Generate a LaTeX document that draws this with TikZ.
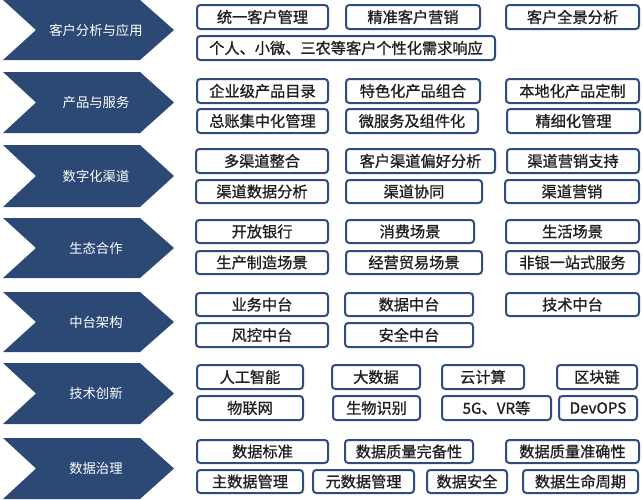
\documentclass[tikz,border=0pt]{standalone}
\usepackage{fontspec}
\setmainfont{Noto Sans CJK SC}
\newfontfamily\boxfont[FakeBold=0.9]{Noto Sans CJK SC}
\newfontfamily\chevfont{Noto Sans CJK SC}
\definecolor{chevblue}{RGB}{44,72,117}
\definecolor{boxblue}{RGB}{47,77,124}
\definecolor{boxtext}{RGB}{30,30,30}
\tikzset{
  bx/.style={draw=boxblue, line width=1.5pt, rounded corners=2.5pt, fill=white,
    inner sep=0pt, text=boxtext, font=\boxfont\fontsize{11.4}{13}\selectfont},
  chev/.style={fill=chevblue, draw=none},
  chevtext/.style={text=white, inner sep=0pt, font=\chevfont\fontsize{10}{12}\selectfont}
}
\newcommand\bx[6]{\node[bx,minimum width={(#4-#2)*0.75pt},minimum height={(#5-#3)*0.75pt}] (#1) at ({(#2+#4)/2},{(#3+#5)/2}) {#6};}
\newcommand\chevron[4]{%
  \fill[chev] (3,#2) -- (140,#2) -- (174,{(#2+#3)/2}) -- (140,#3) -- (3,#3) -- (36,{(#2+#3)/2}) -- cycle;
  \node[chevtext] (#1) at (96,{(#2+#3)/2}) {#4};}
\begin{document}
\begin{tikzpicture}[x=0.75pt,y=-0.75pt]
\useasboundingbox (0,0) rectangle (643,500);
% row 1
\chevron{c1}{0}{60}{客户分析与应用}
\bx{b11}{197}{5}{328}{29}{统一客户管理}
\bx{b12}{346}{5}{480}{29}{精准客户营销}
\bx{b13}{506}{5}{639}{29}{客户全景分析}
\bx{b14}{197}{36}{495}{60}{个人、小微、三农等客户个性化需求响应}
% row 2
\chevron{c2}{72}{133}{产品与服务}
\bx{b21}{197}{79}{328}{103}{企业级产品目录}
\bx{b22}{346}{79}{480}{103}{特色化产品组合}
\bx{b23}{506}{79}{639}{103}{本地化产品定制}
\bx{b24}{197}{109}{328}{133}{总账集中化管理}
\bx{b25}{346}{109}{478}{133}{微服务及组件化}
\bx{b26}{507}{109}{640}{133}{精细化管理}
% row 3
\chevron{c3}{145}{207}{数字化渠道}
\bx{b31}{196}{149}{328}{173}{多渠道整合}
\bx{b32}{346}{149}{495}{173}{客户渠道偏好分析}
\bx{b33}{507}{149}{639}{173}{渠道营销支持}
\bx{b34}{196}{180}{328}{203}{渠道数据分析}
\bx{b35}{346}{180}{482}{203}{渠道协同}
\bx{b36}{505}{180}{639}{203}{渠道营销}
% row 4
\chevron{c4}{218}{278}{生态合作}
\bx{b41}{196}{220}{328}{243}{开放银行}
\bx{b42}{346}{220}{474}{243}{消费场景}
\bx{b43}{506}{220}{639}{243}{生活场景}
\bx{b44}{196}{251}{328}{274}{生产制造场景}
\bx{b45}{346}{251}{482}{274}{经营贸易场景}
\bx{b46}{506}{251}{639}{274}{非银一站式服务}
% row 5
\chevron{c5}{292}{352}{中台架构}
\bx{b51}{196}{293}{328}{316}{业务中台}
\bx{b52}{345}{293}{473}{316}{数据中台}
\bx{b53}{506}{293}{639}{316}{技术中台}
\bx{b54}{196}{323}{328}{347}{风控中台}
\bx{b55}{345}{323}{473}{347}{安全中台}
% row 6
\chevron{c6}{363}{424}{技术创新}
\bx{b61}{197}{365}{303}{389}{人工智能}
\bx{b62}{332}{365}{420}{389}{大数据}
\bx{b63}{442}{365}{524}{389}{云计算}
\bx{b64}{557}{365}{637}{389}{区块链}
\bx{b65}{197}{396}{303}{420}{物联网}
\bx{b66}{333}{396}{420}{420}{生物识别}
\bx{b67}{442}{396}{551}{420}{5G、VR等}
\bx{b68}{559}{396}{637}{420}{DevOPS}
% row 7
\chevron{c7}{438}{499}{数据治理}
\bx{b71}{197}{440}{328}{463}{数据标准}
\bx{b72}{345}{440}{473}{463}{数据质量完备性}
\bx{b73}{506}{440}{639}{463}{数据质量准确性}
\bx{b74}{197}{470}{303}{493}{主数据管理}
\bx{b75}{313}{470}{414}{493}{元数据管理}
\bx{b76}{427}{470}{507}{493}{数据安全}
\bx{b77}{523}{470}{638}{493}{数据生命周期}
\end{tikzpicture}
\end{document}
